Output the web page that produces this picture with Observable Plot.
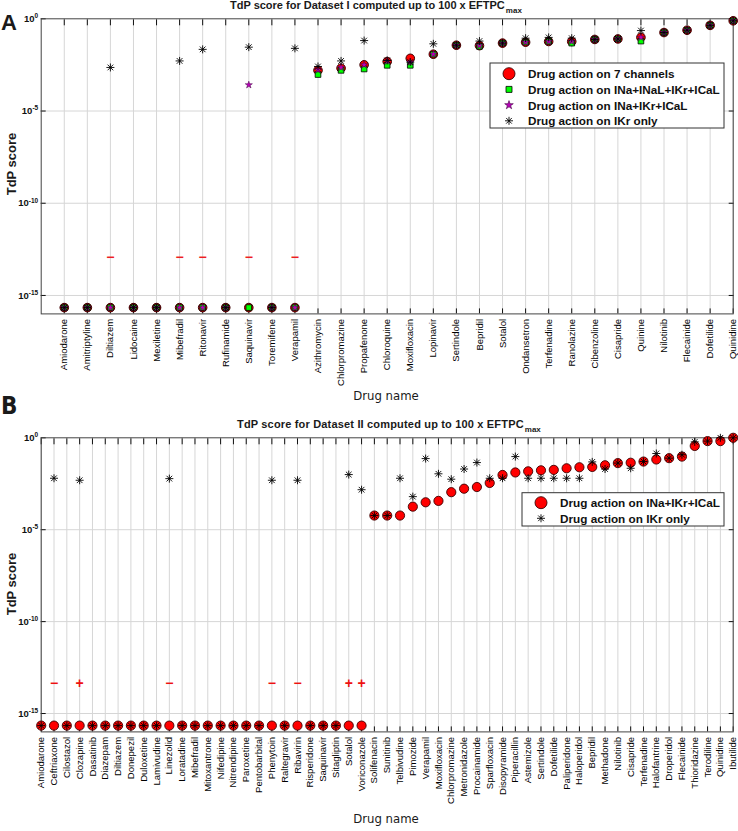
<!DOCTYPE html>
<html><head><meta charset="utf-8">
<script src="https://cdn.jsdelivr.net/npm/d3@7"></script>
<script src="https://cdn.jsdelivr.net/npm/@observablehq/plot@0.6"></script>
<style>
body{margin:0;background:#fff;overflow:hidden;}
#wrap{position:relative;width:738px;height:831px;font-family:"Liberation Sans",Arial,sans-serif;color:#1a1a1a;}
.abs{position:absolute;white-space:nowrap;}
.cen{transform:translate(-50%,-50%);}
.vmid{transform:translateY(-50%);}
.rot{transform:translate(-50%,-50%) rotate(-90deg);}
.narrow{font-family:"Liberation Sans Narrow","DejaVu Sans Condensed","Liberation Sans",sans-serif;}
</style>
</head><body><div id="wrap"></div>
<script>
// ---------------- DATA ----------------
const Z = 2.2e-16; // plotted floor value for zero scores
const yTicks = [1, 1e-5, 1e-10, 1e-15];
const yTickExp = ["0", "-5", "-10", "-15"];

// Panel A (Dataset I)
const drugsA = ["Amiodarone","Amitriptyline","Diltiazem","Lidocaine","Mexiletine","Mibefradil","Ritonavir","Rufinamide","Saquinavir","Toremifene","Verapamil","Azithromycin","Chlorpromazine","Propafenone","Chloroquine","Moxifloxacin","Lopinavir","Sertindole","Bepridil","Sotalol","Ondansetron","Terfenadine","Ranolazine","Cibenzoline","Cisapride","Quinine","Nilotinib","Flecainide","Dofetilide","Quinidine"];
const a7ch = [Z,Z,Z,Z,Z,Z,Z,Z,Z,Z,Z, 1.6e-3,2.1e-3,3.2e-3,4.8e-3,7.2e-3,1.2e-2,3.7e-2,3.5e-2,4.8e-2,5.4e-2,5.9e-2,5.9e-2,7.6e-2,8.1e-2,9.8e-2,0.18,0.24,0.44,0.78];
const a4ch = [Z,Z,Z,Z,Z,Z,Z,Z,Z,Z,Z, 9.5e-4,1.6e-3,1.9e-3,3.0e-3,3.0e-3,1.2e-2,3.7e-2,3.2e-2,4.8e-2,5.4e-2,5.9e-2,4.8e-2,7.6e-2,8.1e-2,6.2e-2,0.18,0.24,0.44,0.78];
const a3ch = [Z,Z,Z,Z,Z,Z,Z,Z,2.6e-4,Z,Z, 1.7e-3,2.3e-3,3.2e-3,5.0e-3,4.5e-3,1.2e-2,3.7e-2,3.5e-2,4.8e-2,5.4e-2,5.9e-2,5.9e-2,7.6e-2,8.1e-2,9.8e-2,0.18,0.24,0.44,0.78];
const aIKr = [Z,Z,2.3e-3,Z,Z,5.2e-3,2.2e-2,Z,2.9e-2,Z,2.5e-2, 2.6e-3,5.2e-3,6.6e-2,5.5e-3,4.5e-3,4.4e-2,3.7e-2,6.2e-2,4.8e-2,8.9e-2,9.8e-2,8.9e-2,7.6e-2,8.1e-2,0.23,0.18,0.24,0.44,0.78];
const signDrugsA = ["Diltiazem","Mibefradil","Ritonavir","Saquinavir","Verapamil"];
const signsA = ["\u2212","\u2212","\u2212","\u2212","\u2212"];
const signLevelA = 1.2e-13;
const legendA = ["Drug action on 7 channels","Drug action on INa+INaL+IKr+ICaL","Drug action on INa+IKr+ICaL","Drug action on IKr only"];

// Panel B (Dataset II)
const drugsB = ["Amiodarone","Ceftriaxone","Cilostazol","Clozapine","Dasatinib","Diazepam","Diltiazem","Donepezil","Duloxetine","Lamivudine","Linezolid","Loratadine","Mibefradil","Mitoxantrone","Nifedipine","Nitrendipine","Paroxetine","Pentobarbital","Phenytoin","Raltegravir","Ribavirin","Risperidone","Saquinavir","Sitagliptin","Sotalol","Voriconazole","Solifenacin","Sunitinib","Telbivudine","Pimozide","Verapamil","Moxifloxacin","Chlorpromazine","Metronidazole","Procainamide","Sparfloxacin","Disopyramide","Piperacillin","Astemizole","Sertindole","Dofetilide","Paliperidone","Haloperidol","Bepridil","Methadone","Nilotinib","Cisapride","Terfenadine","Halofantrine","Droperidol","Flecainide","Thioridazine","Terodiline","Quinidine","Ibutilide"];
const b3ch = [Z,Z,Z,Z,Z,Z,Z,Z,Z,Z,Z,Z,Z,Z,Z,Z,Z,Z,Z,Z,Z,Z,Z,Z,Z,Z, 5.9e-5,5.9e-5,5.9e-5,1.8e-4,3.1e-4,3.7e-4,1.1e-3,1.7e-3,2.1e-3,3.5e-3,9.5e-3,1.3e-2,1.5e-2,1.7e-2,1.8e-2,2.2e-2,2.5e-2,2.6e-2,3.2e-2,4.2e-2,4.4e-2,5.1e-2,6.6e-2,7.8e-2,9.5e-2,0.36,0.66,0.66,1.0];
const bIKr = [Z,6.3e-3,Z,4.9e-3,Z,Z,Z,Z,Z,Z,6.0e-3,Z,Z,Z,Z,Z,Z,Z,4.9e-3,Z,4.9e-3,Z,Z,Z,1.0e-2,1.5e-3, 5.9e-5,5.9e-5,6.3e-3,6.3e-4,7.4e-2,1.1e-2,5.6e-3,2.0e-2,4.5e-2,6.3e-3,6.3e-3,9.5e-2,6.3e-3,6.3e-3,6.3e-3,6.3e-3,6.3e-3,4.9e-2,2.0e-2,4.2e-2,2.2e-2,5.1e-2,0.14,7.8e-2,0.12,0.6,0.66,1.0,1.0];
const signDrugsB = ["Ceftriaxone","Clozapine","Linezolid","Phenytoin","Ribavirin","Sotalol","Voriconazole"];
const signsB = ["\u2212","+","\u2212","\u2212","\u2212","+","+"];
const signLevelB = 4.4e-14;
const legendB = ["Drug action on INa+IKr+ICaL","Drug action on IKr only"];

// ---------------- STYLE ----------------
const RED = "#ff0000", GREEN = "#00ff00", MAG = "#b800b8";
const FONT = "'Liberation Sans', Arial, sans-serif";
const asterisk8 = {draw(ctx, size){
  const r = Math.sqrt(size/Math.PI), d = r*Math.SQRT1_2;
  ctx.moveTo(-r,0); ctx.lineTo(r,0); ctx.moveTo(0,-r); ctx.lineTo(0,r);
  ctx.moveTo(-d,-d); ctx.lineTo(d,d); ctx.moveTo(-d,d); ctx.lineTo(d,-d);
}};
const baseStyle = {fontFamily:FONT, fontSize:"9.5px", color:"#111", background:"transparent", overflow:"visible"};

const measureCtx = document.createElement("canvas").getContext("2d");
function textWidth(str, weight, px){ measureCtx.font = `${weight} ${px}px ${FONT}`; return measureCtx.measureText(str).width; }

function axesMarks(idx, drugs){
  return [
    Plot.ruleX(idx, {stroke:"#d6d6d6", strokeWidth:1}),
    Plot.ruleY(yTicks.slice(1), {stroke:"#d6d6d6", strokeWidth:1}),
    Plot.axisX({anchor:"top", ticks:idx, tickSize:-6, tickFormat:()=>"", label:null, strokeWidth:1}),
    Plot.axisX({anchor:"bottom", ticks:idx, tickSize:-5, tickFormat:()=>"", label:null}),
    Plot.axisX({anchor:"bottom", ticks:idx, tickSize:0, tickPadding:5, tickRotate:-90, tickFormat:i=>drugs[i], label:null, fill:"#000"}),
    Plot.axisY({anchor:"left", ticks:yTicks, tickSize:-5, tickFormat:()=>"", label:null}),
    Plot.axisY({anchor:"right", ticks:yTicks, tickSize:-5, tickFormat:()=>"", label:null}),
    Plot.axisY({anchor:"left", ticks:yTicks, tickSize:0, tickPadding:3, tickFormat:d=>"10^"+yTickExp[yTicks.indexOf(d)], label:null}),
    Plot.frame({stroke:"#444", strokeWidth:1})
  ];
}

function fixYLabels(svg){
  svg.querySelectorAll("text").forEach(t=>{
    const s = t.textContent;
    if (/^10\^/.test(s)) {
      const e = s.slice(3);
      t.textContent = "";
      t.style.fontWeight = "bold";
      t.style.fontSize = "9.5px";
      const a = document.createElementNS("http://www.w3.org/2000/svg","tspan"); a.textContent = "10";
      const b = document.createElementNS("http://www.w3.org/2000/svg","tspan"); b.textContent = e;
      b.setAttribute("dy","-0.55em"); b.style.fontSize = "6.5px";
      t.appendChild(a); t.appendChild(b);
    }
  });
}

// legend: frame + symbols in the SVG; labels as HTML (placed later)
const legendLabels = [];
function addLegend(svg, top, box, items, refIndex, target){
  const fs = 12 * target / textWidth(items[refIndex].label, "bold", 12);
  const g = d3.select(svg).append("g");
  g.append("rect").attr("x",box.x).attr("y",box.y).attr("width",box.w).attr("height",box.h)
    .attr("fill","#fff").attr("stroke","#333").attr("stroke-width",1);
  items.forEach((it,k)=>{
    const cy = box.y0 + k*box.dy;
    g.append("path").attr("transform",`translate(${box.sx},${cy})`)
      .attr("d", d3.symbol(it.type, it.size)())
      .attr("fill", it.fill).attr("stroke", it.stroke).attr("stroke-width", it.sw);
    legendLabels.push({text: it.label, x: box.tx, y: top + cy, fs});
  });
}

// ---------------- PANEL A ----------------
const idxA = drugsA.map((d,i)=>i);
const rowsA = drugsA.map((d,i)=>({i, drug:d, v7:a7ch[i], v4:a4ch[i], v3:a3ch[i], vk:aIKr[i]}));
const signRowsA = signDrugsA.map((d,k)=>({i:drugsA.indexOf(d), s:signsA[k], v:signLevelA}));

const plotA = Plot.plot({
  width:738, height:400,
  marginLeft:40.7, marginRight:5.3, marginTop:18.3, marginBottom:86.6,
  x:{type:"linear", domain:[-1,29]},
  y:{type:"log", domain:[1e-16,1]},
  style: baseStyle,
  marks:[
    ...axesMarks(idxA, drugsA),
    Plot.text(signRowsA, {x:"i", y:"v", text:"s", fill:"#ee1c24", fontSize:14, fontWeight:"bold"}),
    Plot.dot(rowsA, {x:"i", y:"v7", r:4.3, fill:RED, stroke:"#3a0000", strokeWidth:1}),
    Plot.dot(rowsA, {x:"i", y:"v4", symbol:"square", r:3.2, fill:GREEN, stroke:"#000", strokeWidth:0.8}),
    Plot.dot(rowsA, {x:"i", y:"v3", symbol:"star", r:2.25, fill:MAG, stroke:"#400040", strokeWidth:0.5}),
    Plot.dot(rowsA, {x:"i", y:"vk", symbol:asterisk8, r:4, fill:"none", stroke:"#000", strokeWidth:0.9})
  ]
});
fixYLabels(plotA);
addLegend(plotA, 0, {x:490, y:63, w:234, h:65, y0:73.7, dy:15.7, sx:509, tx:528}, [
  {type:d3.symbolCircle, size:Math.PI*36, fill:RED, stroke:"#3a0000", sw:0.9, label:legendA[0]},
  {type:d3.symbolSquare, size:36, fill:GREEN, stroke:"#000", sw:0.8, label:legendA[1]},
  {type:d3.symbolStar, size:Math.PI*7.3, fill:MAG, stroke:"#400040", sw:0.6, label:legendA[2]},
  {type:asterisk8, size:Math.PI*16, fill:"none", stroke:"#000", sw:0.9, label:legendA[3]}
], 1, 192);

// ---------------- PANEL B ----------------
const idxB = drugsB.map((d,i)=>i);
const rowsB = drugsB.map((d,i)=>({i, drug:d, v3:b3ch[i], vk:bIKr[i]}));
const signRowsB = signDrugsB.map((d,k)=>({i:drugsB.indexOf(d), s:signsB[k], v:signLevelB}));

const plotB = Plot.plot({
  width:738, height:421,
  marginLeft:40.7, marginRight:5.3, marginTop:27.3, marginBottom:99.6,
  x:{type:"linear", domain:[0,54]},
  y:{type:"log", domain:[1e-16,1]},
  style: baseStyle,
  marks:[
    ...axesMarks(idxB, drugsB),
    Plot.text(signRowsB, {x:"i", y:"v", text:"s", fill:"#ee1111", fontSize:14, fontWeight:"bold"}),
    Plot.dot(rowsB, {x:"i", y:"v3", r:4.6, fill:RED, stroke:"#3a0000", strokeWidth:0.9}),
    Plot.dot(rowsB, {x:"i", y:"vk", symbol:asterisk8, r:4, fill:"none", stroke:"#000", strokeWidth:0.9})
  ]
});
fixYLabels(plotB);
addLegend(plotB, 410, {x:522, y:82.7, w:202, h:33.3, y0:92.7, dy:15.6, sx:541, tx:560}, [
  {type:d3.symbolCircle, size:Math.PI*36, fill:RED, stroke:"#3a0000", sw:0.9, label:legendB[0]},
  {type:asterisk8, size:Math.PI*16, fill:"none", stroke:"#000", sw:0.9, label:legendB[1]}
], 0, 160);

// ---------------- LAYOUT ----------------
const wrap = document.getElementById("wrap");
function place(node, top){ node.style.position="absolute"; node.style.left="0px"; node.style.top=top+"px"; wrap.appendChild(node); }
place(plotA, 0);
place(plotB, 410);

function html(str, css, cls){
  const d = document.createElement("div"); d.className = "abs " + (cls||""); d.innerHTML = str;
  Object.assign(d.style, css); wrap.appendChild(d); return d;
}
legendLabels.forEach(l => {
  html(l.text, {left:l.x+"px", top:(l.y+0.5)+"px", font:`bold ${l.fs.toFixed(2)}px ${FONT}`, lineHeight:"1", color:"#111"}, "vmid");
});
function title(main, left, top, target){
  const d = html(`<span class="m">${main}</span><span style="font-size:8px;position:relative;top:4px;margin-left:1px;">max</span>`,
    {left:left+"px", top:top+"px", font:`bold 11px ${FONT}`, lineHeight:"12px"});
  const m = d.querySelector(".m");
  const w = textWidth(main, "bold", 11);
  m.style.letterSpacing = ((target - w) / main.length).toFixed(3) + "px";
}
title("TdP score for Dataset I computed up to 100 x EFTPC", 230, -1, 275);
title("TdP score for Dataset II computed up to 100 x EFTPC", 237, 418, 287);
html("A", {left:"1px", top:"12px", font:`bold 22px ${FONT}`, lineHeight:"22px"});
html("B", {left:"1px", top:"394px", fontWeight:"bold", fontSize:"24px", lineHeight:"24px"}, "narrow");
html("TdP score", {left:"11px", top:"164px", font:`bold 13px ${FONT}`}, "rot");
html("TdP score", {left:"11px", top:"584px", font:`bold 13px ${FONT}`}, "rot");
html("Drug name", {left:"386px", top:"395px", fontSize:"13px"}, "cen narrow");
html("Drug name", {left:"386px", top:"818px", fontSize:"13px"}, "cen narrow");
</script>
</body></html>
